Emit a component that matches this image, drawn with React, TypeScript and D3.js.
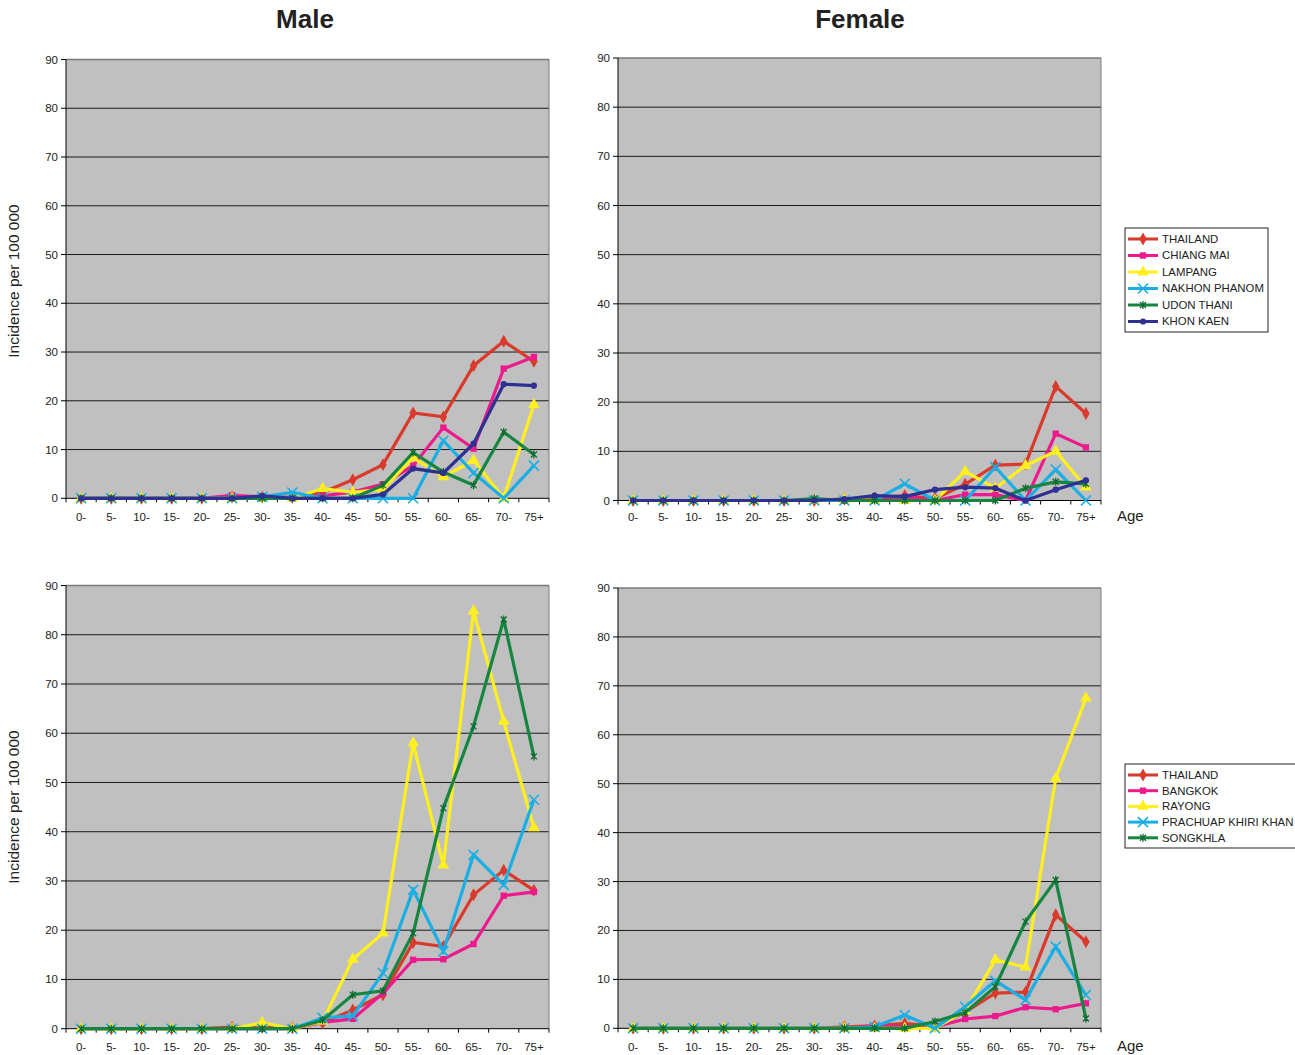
import React from "react";
import * as d3 from "d3";

const ageGroups = ["0-","5-","10-","15-","20-","25-","30-","35-","40-","45-","50-","55-","60-","65-","70-","75+"];
const yTicks = [0,10,20,30,40,50,60,70,80,90];

// Male, north/north-east provinces
const thailandMale = [0,0,0,0,0,0.3,0.3,0.2,1.2,3.8,6.9,17.5,16.7,27.2,32.2,28.1];
const chiangMaiMale = [0,0,0,0,0,0.6,0.3,0,0.5,1.3,2.9,6.7,14.5,10.2,26.6,29];
const lampangMale = [0,0,0,0,0,0,0,0,2,1.2,1.9,8.3,4.4,7.8,0,19.2];
const nakhonPhanomMale = [0,0,0,0,0,0,0.3,1.2,0,0,0,0,11.8,5.2,0,6.7];
const udonThaniMale = [0,0,0,0,0,0,0,0,0,0,2.7,9.4,5.4,2.7,13.6,9];
const khonKaenMale = [0,0,0,0,0,0,0.5,0,0,0,0.8,6.1,5.2,11.2,23.4,23.1];

// Female, north/north-east provinces
const thailandFemale = [0,0,0,0,0,0,0,0.3,0.5,1.0,0.4,3.3,7.2,7.4,23.2,17.7];
const chiangMaiFemale = [0,0,0,0,0,0,0,0,0,0.8,0,1.2,1.2,0,13.6,10.8];
const lampangFemale = [0,0,0,0,0,0,0,0.2,0,0,0,5.9,2.5,7.1,10,2.7];
const nakhonPhanomFemale = [0,0,0,0,0,0,0,0,0,3.4,0,0,6.8,0,6.3,0];
const udonThaniFemale = [0,0,0,0,0,0,0.4,0,0,0,0,0,0,2.5,3.8,3.4];
const khonKaenFemale = [0,0,0,0,0,0,0,0.3,1.0,0.8,2.2,2.7,2.5,0,2.2,4.1];

// Male, central/south provinces
const bangkokMale = [0,0,0,0,0,0,0,0,1.3,2,7.2,14,14.1,17.2,27,27.8];
const rayongMale = [0,0,0,0,0,0,1.2,0,1.5,14.1,19.4,58,33.2,84.8,62.4,40.8];
const prachuapMale = [0,0,0,0,0,0,0,0,2.2,2.6,11.3,28.2,15.7,35.3,29.2,46.5];
const songkhlaMale = [0,0,0,0,0,0,0,0,1.7,6.9,7.7,19.4,44.8,61.4,83.1,55.3];

// Female, central/south provinces
const bangkokFemale = [0,0,0,0,0,0,0,0,0.5,0.3,0.3,1.9,2.5,4.3,3.9,5.1];
const rayongFemale = [0,0,0,0,0,0,0,0,0,0,0,3.6,14,12.5,51.1,67.5];
const prachuapFemale = [0,0,0,0,0,0,0,0,0.3,2.7,0,4.4,9.7,5.8,16.7,6.8];
const songkhlaFemale = [0,0,0,0,0,0,0,0,0,0,1.4,3.2,8.5,21.8,30.3,2];

const northNames = ["THAILAND","CHIANG MAI","LAMPANG","NAKHON PHANOM","UDON THANI","KHON KAEN"];
const southNames = ["THAILAND","BANGKOK","RAYONG","PRACHUAP KHIRI KHAN","SONGKHLA"];

type Marker = "diamond" | "square" | "triangle" | "x" | "star" | "circle";
const RED = "#D93A2B", MAG = "#EC1A8D", YEL = "#FFEF1E", CYA = "#1AAEE5", GRN = "#168540", NAV = "#2E3192";

const northStyle: { color: string; marker: Marker }[] = [
  { color: RED, marker: "diamond" },
  { color: MAG, marker: "square" },
  { color: YEL, marker: "triangle" },
  { color: CYA, marker: "x" },
  { color: GRN, marker: "star" },
  { color: NAV, marker: "circle" },
];
const southStyle = northStyle.slice(0, 5);

const FONT = "'Liberation Sans', Arial, sans-serif";

function MarkerShape({ type, color, x, y }: { type: Marker; color: string; x: number; y: number }) {
  const t = `translate(${x},${y})`;
  if (type === "x") {
    return <path transform={t} d="M-5,-5L5,5M-5,5L5,-5" stroke={color} strokeWidth={1.6} fill="none" />;
  }
  if (type === "star") {
    return <path transform={t} d="M-3,-3L3,3M-3,3L3,-3M0,-4L0,4" stroke="#0E6B30" strokeWidth={1.3} fill="none" />;
  }
  const sym = type === "diamond" ? d3.symbolDiamond : type === "square" ? d3.symbolSquare : type === "triangle" ? d3.symbolTriangle : d3.symbolCircle;
  const size = type === "diamond" ? 48 : type === "square" ? 40 : type === "triangle" ? 60 : 30;
  return <path transform={t} d={d3.symbol(sym, size)() || ""} fill={color} />;
}

type PanelProps = {
  x0: number; x1: number; yTop: number; yBot: number;
  data: number[][]; styles: { color: string; marker: Marker }[];
  xLabelY: number;
};

function Panel({ x0, x1, yTop, yBot, data, styles, xLabelY }: PanelProps) {
  const x = d3.scaleBand<string>().domain(ageGroups).range([x0, x1]).padding(0);
  const y = d3.scaleLinear().domain([0, 90]).range([yBot, yTop]);
  const cx = (i: number) => (x(ageGroups[i]) as number) + x.bandwidth() / 2;
  const line = d3.line<number>().x((_, i) => cx(i)).y((v) => y(v));
  const bounds = d3.range(ageGroups.length + 1).map((i) => x0 + i * x.bandwidth());
  return (
    <g>
      <rect x={x0} y={yTop} width={x1 - x0} height={yBot - yTop} fill="#C0C0C0" />
      {yTicks.filter((t) => t > 0 && t < 90).map((t) => (
        <line key={t} x1={x0} x2={x1} y1={y(t)} y2={y(t)} stroke="#1a1a1a" strokeWidth={1} />
      ))}
      <line x1={x0} x2={x1} y1={yTop} y2={yTop} stroke="#7a7a7a" strokeWidth={1.5} />
      <line x1={x1} x2={x1} y1={yTop} y2={yBot} stroke="#7a7a7a" strokeWidth={1} />
      <line x1={x0} x2={x0} y1={yTop} y2={yBot} stroke="#000" strokeWidth={1} />
      <line x1={x0} x2={x1} y1={yBot} y2={yBot} stroke="#000" strokeWidth={1} />
      {yTicks.map((t) => (
        <g key={t}>
          <line x1={x0 - 5} x2={x0} y1={y(t)} y2={y(t)} stroke="#000" />
          <text x={x0 - 8} y={y(t)} dy="0.35em" textAnchor="end" fontSize={11.5} fill="#222" fontFamily={FONT}>{t}</text>
        </g>
      ))}
      {bounds.map((b, i) => (
        <line key={i} x1={b} x2={b} y1={yBot} y2={yBot + 4} stroke="#000" />
      ))}
      {ageGroups.map((a, i) => (
        <text key={a} x={cx(i)} y={xLabelY} textAnchor="middle" fontSize={11.5} fill="#222" fontFamily={FONT}>{a}</text>
      ))}
      {data.map((s, k) => (
        <g key={k}>
          <path d={line(s) || ""} fill="none" stroke={styles[k].color} strokeWidth={3.2} strokeLinejoin="miter" />
          {s.map((v, i) => (
            <MarkerShape key={i} type={styles[k].marker} color={styles[k].color} x={cx(i)} y={y(v)} />
          ))}
        </g>
      ))}
    </g>
  );
}

function Legend({ x, y, w, h, names, styles, step }: { x: number; y: number; w: number; h: number; names: string[]; styles: { color: string; marker: Marker }[]; step: number }) {
  return (
    <g>
      <rect x={x} y={y} width={w} height={h} fill="#fff" stroke="#222" strokeWidth={1} />
      {names.map((n, i) => {
        const yy = y + 11 + i * step;
        return (
          <g key={n}>
            <line x1={x + 3} x2={x + 33} y1={yy} y2={yy} stroke={styles[i].color} strokeWidth={3} />
            <MarkerShape type={styles[i].marker} color={styles[i].color} x={x + 18} y={yy} />
            <text x={x + 37} y={yy} dy="0.35em" fontSize={11.4} fill="#222" fontFamily={FONT}>{n}</text>
          </g>
        );
      })}
    </g>
  );
}

export default function App() {
  const northMale = [thailandMale, chiangMaiMale, lampangMale, nakhonPhanomMale, udonThaniMale, khonKaenMale];
  const northFemale = [thailandFemale, chiangMaiFemale, lampangFemale, nakhonPhanomFemale, udonThaniFemale, khonKaenFemale];
  const southMale = [thailandMale, bangkokMale, rayongMale, prachuapMale, songkhlaMale];
  const southFemale = [thailandFemale, bangkokFemale, rayongFemale, prachuapFemale, songkhlaFemale];
  return (
    <svg width={1295} height={1055} style={{ position: "absolute", left: 0, top: 0, background: "#fff" }}>
      <rect width={1295} height={1055} fill="#fff" />
      <text x={305} y={28} textAnchor="middle" fontSize={26} fontWeight="bold" fill="#222" fontFamily={FONT}>Male</text>
      <text x={860} y={28} textAnchor="middle" fontSize={26} fontWeight="bold" fill="#222" fontFamily={FONT}>Female</text>

      <Panel x0={66} x1={549} yTop={59.5} yBot={498.3} data={northMale} styles={northStyle} xLabelY={521} />
      <Panel x0={618} x1={1101} yTop={58} yBot={500.5} data={northFemale} styles={northStyle} xLabelY={521} />
      <Panel x0={66} x1={549} yTop={585.5} yBot={1028.7} data={southMale} styles={southStyle} xLabelY={1051} />
      <Panel x0={618} x1={1101} yTop={588} yBot={1028.3} data={southFemale} styles={southStyle} xLabelY={1051} />

      <text transform="translate(19,281) rotate(-90)" textAnchor="middle" fontSize={15.5} fill="#222" fontFamily={FONT}>Incidence per 100 000</text>
      <text transform="translate(19,807) rotate(-90)" textAnchor="middle" fontSize={15.5} fill="#222" fontFamily={FONT}>Incidence per 100 000</text>

      <text x={1117} y={521} fontSize={15} fill="#222" fontFamily={FONT}>Age</text>
      <text x={1117} y={1051} fontSize={15} fill="#222" fontFamily={FONT}>Age</text>

      <Legend x={1125} y={228} w={143} h={104} names={northNames} styles={northStyle} step={16.5} />
      <Legend x={1125} y={764} w={180} h={84} names={southNames} styles={southStyle} step={15.7} />
    </svg>
  );
}
